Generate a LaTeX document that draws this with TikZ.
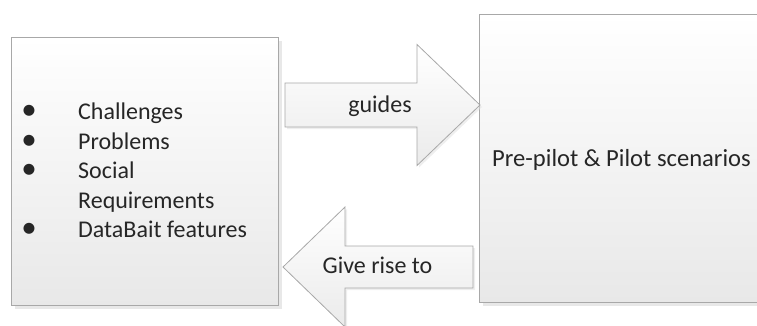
\documentclass[tikz,border=0pt]{standalone}
\usepackage{fontspec}
\setmainfont{Carlito}
\usetikzlibrary{calc,shadows}
\definecolor{edge}{HTML}{A8A8A8}
\definecolor{ink}{HTML}{262626}
\tikzset{
  panel/.style={draw=edge, line width=1pt, top color=white, bottom color=black!9,
    drop shadow={shadow xshift=3pt, shadow yshift=-3pt, fill=black!18},
    anchor=north west, inner sep=0pt},
  blockarrow/.style={draw=edge, line width=0.8pt, top color=white, bottom color=black!8,
    drop shadow={shadow xshift=2pt, shadow yshift=-2pt, fill=black!13}},
  txt/.style={font=\fontsize{24}{29}\selectfont, text=ink, inner sep=0pt},
  dot/.style={font=\fontsize{31}{31}\selectfont, text=ink, inner sep=0pt},
}
\begin{document}
\begin{tikzpicture}[x=1pt,y=-1pt]
\clip (0,0) rectangle (757,325);

% the two panels
\node[panel, minimum width=267pt, minimum height=268pt] (left) at (11,37) {};
\node[panel, minimum width=300pt, minimum height=288pt] (right) at (479,14) {};

% bullet list in the left panel
\node[dot] (b1) at (29,112) {•};
\node[txt, anchor=base west] (i1) at (78,119) {Challenges};
\node[dot] (b2) at (29,142) {•};
\node[txt, anchor=base west] (i2) at (78,149) {Problems};
\node[dot] (b3) at (29,171.5) {•};
\node[txt, anchor=base west] (i3) at (78,178.5) {Social};
\node[txt, anchor=base west] (i3b) at (78,208) {Requirements};
\node[dot] (b4) at (29,230) {•};
\node[txt, anchor=base west] (i4) at (78,237) {DataBait features};

% right panel label
\node[txt, anchor=base west, font=\fontsize{24.6}{29}\selectfont] (scen) at (492,166) {Pre-pilot \& Pilot scenarios};

% block arrow: left -> right
\coordinate (ga) at (285,105);
\coordinate (gb) at (480,105);
\draw[blockarrow] ($(ga)+(0,-22)$) -- ($(gb)+(-63,-22)$) -- ($(gb)+(-63,-60.5)$) -- (gb)
  -- ($(gb)+(-63,60.5)$) -- ($(gb)+(-63,22)$) -- ($(ga)+(0,22)$) -- cycle;
\node[txt, anchor=base] (guides) at (380,112.5) {guides};

% block arrow: right -> left
\coordinate (ra) at (473,267);
\coordinate (rb) at (283,267);
\draw[blockarrow] ($(ra)+(0,-21)$) -- ($(rb)+(62,-21)$) -- ($(rb)+(62,-60)$) -- (rb)
  -- ($(rb)+(62,60)$) -- ($(rb)+(62,21)$) -- ($(ra)+(0,21)$) -- cycle;
\node[txt, anchor=base] (rise) at (377.5,273.5) {Give rise to};
\end{tikzpicture}
\end{document}
